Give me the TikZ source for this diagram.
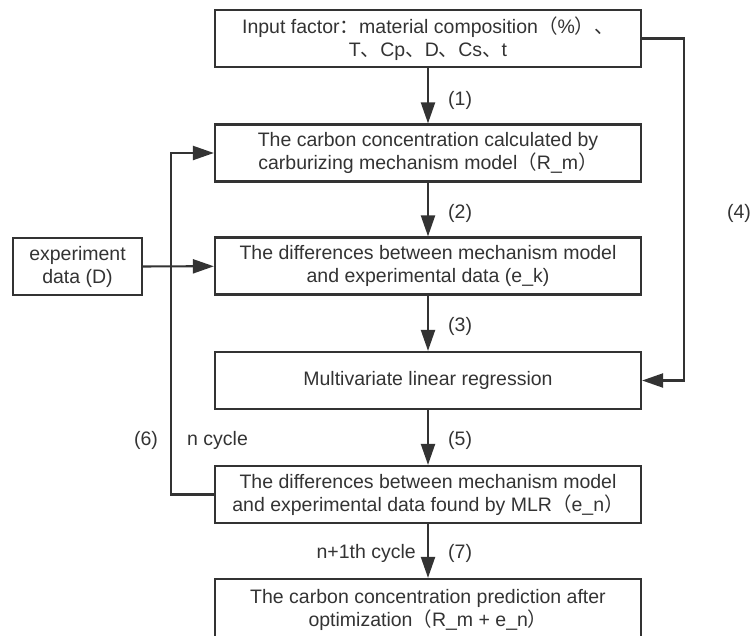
\documentclass[tikz,border=0pt]{standalone}
\usepackage{fontspec}
\setmainfont{Liberation Sans}
\newfontfamily\cjk{Noto Sans CJK SC}
\usetikzlibrary{arrows.meta}
\definecolor{ink}{HTML}{333333}
\begin{document}
\begin{tikzpicture}[x=1pt,y=-1pt,
  box/.style={draw=ink, line width=2.2pt, minimum width=426pt, minimum height=57pt,
    align=center, text=ink, inner sep=0pt, font=\fontsize{19.5}{23}\selectfont},
  smallbox/.style={box, minimum width=129pt},
  arr/.style={draw=ink, line width=2.2pt, -{Triangle[length=21pt,width=14pt]}},
  lbl/.style={text=ink, font=\fontsize{19.5}{23}\selectfont, inner sep=0pt}]
\useasboundingbox (0,0) rectangle (752,635);

\node[box] (b1) at (428,38.5) {Input factor{\cjk ：}material composition{\cjk （}\%{\cjk ）、}\\T{\cjk 、}Cp{\cjk 、}D{\cjk 、}Cs{\cjk 、}t};
\node[box] (b2) at (428,153) {The carbon concentration calculated by\\carburizing mechanism model{\cjk （}R\_m{\cjk ）}};
\node[box] (b3) at (428,266) {The differences between mechanism model\\and experimental data (e\_k)};
\node[smallbox] (exp) at (77.5,266.5) {experiment\\data (D)};
\node[box] (b4) at (428,380.5) {Multivariate linear regression};
\node[box] (b5) at (428,494.5) {The differences between mechanism model\\and experimental data found by MLR{\cjk （}e\_n{\cjk ）}};
\node[box, minimum height=62pt] (b6) at (428,610) {The carbon concentration prediction after\\optimization{\cjk （}R\_m + e\_n{\cjk ）}};

\draw[arr] (b1) -- (b2);
\draw[arr] (b2) -- (b3);
\draw[arr] (b3) -- (b4);
\draw[arr] (b4) -- (b5);
\draw[arr] (b5) -- (b6);
\draw[arr] (exp) -- (b3);
\draw[arr] (b1.east) -- ++(42,0) |- (b4.east);
\draw[arr] (b5.west) -- ++(-43,0) |- (b2.west);

\node[lbl, anchor=west] (l1) at (448,100) {(1)};
\node[lbl, anchor=west] (l2) at (448,213) {(2)};
\node[lbl, anchor=west] (l3) at (448,326) {(3)};
\node[lbl, anchor=west] (l5) at (448,440) {(5)};
\node[lbl, anchor=west] (l7) at (448,553) {(7)};
\node[lbl] (l4) at (739,213) {(4)};
\node[lbl] (l6) at (146,440) {(6)};
\node[lbl, anchor=west] (nc) at (187,440) {n cycle};
\node[lbl, anchor=east] (n1) at (416,553) {n+1th cycle};
\end{tikzpicture}
\end{document}
